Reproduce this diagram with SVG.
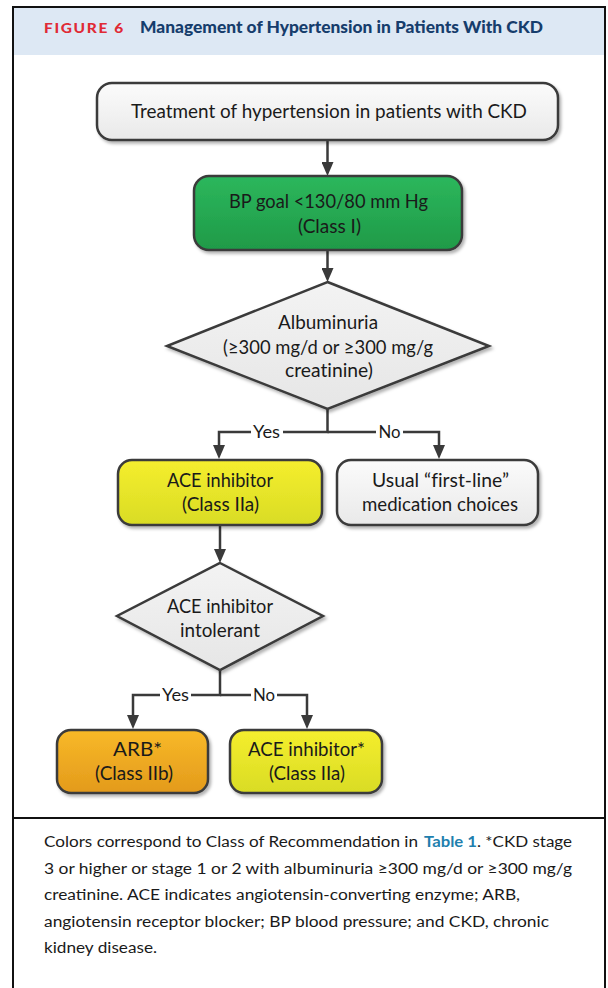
<svg xmlns="http://www.w3.org/2000/svg" width="608" height="988" viewBox="0 0 608 988">
<defs>
<style>
.frame{fill:none;stroke:#111;stroke-width:2}
.box{stroke:#3a3a3a;stroke-width:2.5}
.gray{fill:url(#gGray)}
.green{fill:url(#gGreen)}
.yellow{fill:url(#gYellow)}
.orange{fill:url(#gOrange)}
.dia{fill:url(#gDia);stroke:#3a3a3a;stroke-width:2.5}
.t{font-family:Lato,"Liberation Sans",sans-serif;font-size:19.5px;fill:#1a1a1a;text-anchor:middle;font-variant-ligatures:none}
.lbl{font-family:Lato,"Liberation Sans",sans-serif;font-size:17px;fill:#1a1a1a;text-anchor:middle}
.conn{fill:none;stroke:#3a3a3a;stroke-width:2.5}
.cap{font-family:Lato,"Liberation Sans",sans-serif;font-size:15.5px;fill:#1a1a1a}
.link{font-weight:bold;fill:#1f7fae}
.fig{font-family:Lato,"Liberation Sans",sans-serif;font-size:14px;font-weight:900;fill:#e02a35;letter-spacing:1.5px}
.title{font-family:Lato,"Liberation Sans",sans-serif;font-size:16px;font-weight:900;fill:#163d6c}
</style>
<linearGradient id="gGray" x1="0" y1="0" x2="0" y2="1"><stop offset="0" stop-color="#fbfbfb"/><stop offset="1" stop-color="#e9e9e9"/></linearGradient>
<linearGradient id="gDia" x1="0" y1="0" x2="0" y2="1"><stop offset="0" stop-color="#f3f3f3"/><stop offset="1" stop-color="#e6e6e6"/></linearGradient>
<linearGradient id="gGreen" x1="0" y1="0" x2="0" y2="1"><stop offset="0" stop-color="#2cb75c"/><stop offset="1" stop-color="#1f9a48"/></linearGradient>
<linearGradient id="gYellow" x1="0" y1="0" x2="0" y2="1"><stop offset="0" stop-color="#f5ee2e"/><stop offset="1" stop-color="#d9dc24"/></linearGradient>
<linearGradient id="gOrange" x1="0" y1="0" x2="0" y2="1"><stop offset="0" stop-color="#f8b928"/><stop offset="1" stop-color="#e39a1c"/></linearGradient>
<filter id="sh" x="-10%" y="-10%" width="125%" height="135%"><feDropShadow dx="2" dy="2.5" stdDeviation="1.5" flood-color="#000" flood-opacity="0.3"/></filter>
<marker id="arr" markerUnits="userSpaceOnUse" markerWidth="14" markerHeight="12" viewBox="0 0 14 12" refX="10" refY="6" orient="auto"><path d="M0,0 L14,6 L0,12 z" fill="#3a3a3a"/></marker>
</defs>
<rect x="0" y="0" width="608" height="988" fill="#fff"/>
<g id="header">
<rect x="13" y="7" width="592" height="48" fill="#dde8f4"/>
<text class="fig" x="44" y="33" textLength="81" lengthAdjust="spacingAndGlyphs">FIGURE 6</text>
<text class="title" x="140" y="33" textLength="403" lengthAdjust="spacingAndGlyphs">Management of Hypertension in Patients With CKD</text>
</g>
<g id="frame">
<path class="frame" d="M13,990 V7 H605 V990"/>
<line x1="13" y1="818" x2="605" y2="818" stroke="#111" stroke-width="2"/>
</g>
<g id="connectors">
<path class="conn" d="M327.5,140 V172" marker-end="url(#arr)"/>
<path class="conn" d="M327.5,250 V278" marker-end="url(#arr)"/>
<path class="conn" d="M327.5,409 V432 H283"/>
<path class="conn" d="M251,432 H219 V455" marker-end="url(#arr)"/>
<path class="conn" d="M327.5,432 H376"/>
<path class="conn" d="M403,432 H439 V455" marker-end="url(#arr)"/>
<path class="conn" d="M220,525 V559" marker-end="url(#arr)"/>
<path class="conn" d="M220,670 V695 H191"/>
<path class="conn" d="M160,695 H133 V725" marker-end="url(#arr)"/>
<path class="conn" d="M220,695 H251"/>
<path class="conn" d="M277,695 H307 V725" marker-end="url(#arr)"/>
<text class="lbl" x="266.5" y="438" textLength="27" lengthAdjust="spacingAndGlyphs">Yes</text>
<text class="lbl" x="389.5" y="438" textLength="22" lengthAdjust="spacingAndGlyphs">No</text>
<text class="lbl" x="175.5" y="701" textLength="27" lengthAdjust="spacingAndGlyphs">Yes</text>
<text class="lbl" x="264" y="701" textLength="22" lengthAdjust="spacingAndGlyphs">No</text>
</g>
<g id="n-treatment">
<rect class="box gray" x="97" y="83" width="461" height="57" rx="15" filter="url(#sh)"/>
<text class="t" x="329" y="118" textLength="396" lengthAdjust="spacingAndGlyphs">Treatment of hypertension in patients with CKD</text>
</g>
<g id="n-bpgoal">
<rect class="box green" x="194" y="176" width="268" height="74" rx="15" filter="url(#sh)"/>
<text class="t" x="328.5" y="208" textLength="199" lengthAdjust="spacingAndGlyphs">BP goal &lt;130/80 mm Hg</text>
<text class="t" x="329.5" y="233" textLength="63" lengthAdjust="spacingAndGlyphs">(Class I)</text>
</g>
<g id="n-albuminuria">
<polygon class="dia" points="327.5,282 489,346 327.5,409 167,346" filter="url(#sh)"/>
<text class="t" x="328" y="329" textLength="100" lengthAdjust="spacingAndGlyphs">Albuminuria</text>
<text class="t" x="328" y="354" textLength="210" lengthAdjust="spacingAndGlyphs">(≥300 mg/d or ≥300 mg/g</text>
<text class="t" x="329" y="377" textLength="88" lengthAdjust="spacingAndGlyphs">creatinine)</text>
</g>
<g id="n-ace">
<rect class="box yellow" x="118" y="460" width="204" height="65" rx="14" filter="url(#sh)"/>
<text class="t" x="220" y="487" textLength="106" lengthAdjust="spacingAndGlyphs">ACE inhibitor</text>
<text class="t" x="220.5" y="511" textLength="77" lengthAdjust="spacingAndGlyphs">(Class IIa)</text>
</g>
<g id="n-usual">
<rect class="box gray" x="337" y="460" width="201" height="65" rx="14" filter="url(#sh)"/>
<text class="t" x="440.5" y="487" textLength="137" lengthAdjust="spacingAndGlyphs">Usual “first-line”</text>
<text class="t" x="440" y="511" textLength="156" lengthAdjust="spacingAndGlyphs">medication choices</text>
</g>
<g id="n-intolerant">
<polygon class="dia" points="220,563 323,616 220,670 117,616" filter="url(#sh)"/>
<text class="t" x="220" y="613" textLength="106" lengthAdjust="spacingAndGlyphs">ACE inhibitor</text>
<text class="t" x="220" y="637" textLength="80" lengthAdjust="spacingAndGlyphs">intolerant</text>
</g>
<g id="n-arb">
<rect class="box orange" x="57" y="730" width="151" height="63" rx="14" filter="url(#sh)"/>
<text class="t" x="137.5" y="756" textLength="49" lengthAdjust="spacingAndGlyphs">ARB*</text>
<text class="t" x="134" y="780" textLength="78" lengthAdjust="spacingAndGlyphs">(Class IIb)</text>
</g>
<g id="n-ace2">
<rect class="box yellow" x="230" y="730" width="152" height="63" rx="14" filter="url(#sh)"/>
<text class="t" x="306.5" y="756" textLength="117" lengthAdjust="spacingAndGlyphs">ACE inhibitor*</text>
<text class="t" x="307" y="780" textLength="76" lengthAdjust="spacingAndGlyphs">(Class IIa)</text>
</g>
<g id="caption">
<text class="cap" x="44" y="847" textLength="374" lengthAdjust="spacingAndGlyphs">Colors correspond to Class of Recommendation in</text>
<text class="cap link" x="424" y="847" textLength="53" lengthAdjust="spacingAndGlyphs">Table 1</text>
<text class="cap" x="477" y="847" textLength="95" lengthAdjust="spacingAndGlyphs">. *CKD stage</text>
<text class="cap" x="44" y="874" textLength="528" lengthAdjust="spacingAndGlyphs">3 or higher or stage 1 or 2 with albuminuria ≥300 mg/d or ≥300 mg/g</text>
<text class="cap" x="44" y="900" textLength="476" lengthAdjust="spacingAndGlyphs">creatinine. ACE indicates angiotensin-converting enzyme; ARB,</text>
<text class="cap" x="44" y="927" textLength="505" lengthAdjust="spacingAndGlyphs">angiotensin receptor blocker; BP blood pressure; and CKD, chronic</text>
<text class="cap" x="44" y="953" textLength="113" lengthAdjust="spacingAndGlyphs">kidney disease.</text>
</g>
</svg>
